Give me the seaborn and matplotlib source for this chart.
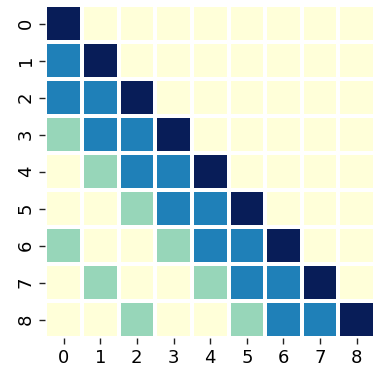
import numpy as np
import seaborn as sns
from matplotlib import pyplot as plt

labels = list(range(9))
# 0 = none, 1 = weak, 2 = medium, 3 = diagonal
values = [
    [3, 0, 0, 0, 0, 0, 0, 0, 0],
    [2, 3, 0, 0, 0, 0, 0, 0, 0],
    [2, 2, 3, 0, 0, 0, 0, 0, 0],
    [1, 2, 2, 3, 0, 0, 0, 0, 0],
    [0, 1, 2, 2, 3, 0, 0, 0, 0],
    [0, 0, 1, 2, 2, 3, 0, 0, 0],
    [1, 0, 0, 1, 2, 2, 3, 0, 0],
    [0, 1, 0, 0, 1, 2, 2, 3, 0],
    [0, 0, 1, 0, 0, 1, 2, 2, 3],
]

fig = plt.figure(figsize=(3.77, 3.74), dpi=100)
ax = fig.add_axes([0.12, 0.096, 0.875, 0.89])
sns.heatmap(np.array(values), cmap='YlGnBu', vmin=0, vmax=3, cbar=False,
            linewidths=1.5, linecolor='white', square=False,
            xticklabels=labels, yticklabels=labels, ax=ax)
ax.tick_params(labelsize=13, length=4, width=1, color='#222222')
plt.setp(ax.get_yticklabels(), rotation=90, va='center')
plt.setp(ax.get_xticklabels(), rotation=0)
fig.savefig('out.png', dpi=100)
